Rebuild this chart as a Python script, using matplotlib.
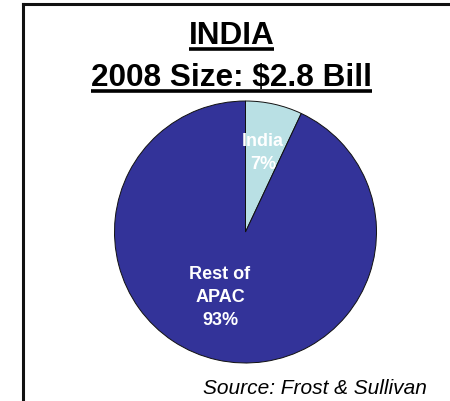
import matplotlib

matplotlib.use("Agg")
import matplotlib.pyplot as plt
from matplotlib.lines import Line2D

plt.rcParams["font.family"] = ["Liberation Sans", "DejaVu Sans"]

# market share, 2008
regions = ["India", "Rest of\nAPAC"]
shares = [7, 93]
slice_colors = ["#B9E0E4", "#333399"]
title_lines = ["INDIA", "2008 Size: $2.8 Bill"]
source_note = "Source: Frost & Sullivan"

W, H = 450, 401
fig = plt.figure(figsize=(W / 100, H / 100), dpi=100)
fig.patch.set_facecolor("white")


def px(x, y):
    # pixel position (top-left origin) -> figure fraction
    return x / W, 1 - y / H


# pie: centre (245.5, 232) px, radius 131 px
cx, cy, r = 245.5, 232, 131
ax = fig.add_axes([(cx - r) / W, 1 - (cy + r) / H, 2 * r / W, 2 * r / H])
wedges, _ = ax.pie(
    shares,
    colors=slice_colors,
    startangle=90,
    counterclock=False,
    radius=1,
    wedgeprops=dict(edgecolor="#111111", linewidth=0.7),
)
ax.set_xlim(-1, 1)
ax.set_ylim(-1, 1)
ax.set_aspect("equal")
ax.axis("off")

label_pos = [(0.134, 0.60), (-0.195, -0.50)]
for name, val, (lx, ly) in zip(regions, shares, label_pos):
    ax.text(
        lx,
        ly,
        f"{name}\n{val}%",
        ha="center",
        va="center",
        multialignment="center",
        color="white",
        fontsize=13,
        fontweight="bold",
        linespacing=1.45,
    )

# underlined title
renderer = fig.canvas.get_renderer()
for txt, base_y in zip(title_lines, [44, 86]):
    t = fig.text(
        *px(231.5, base_y),
        txt,
        ha="center",
        va="baseline",
        fontsize=22.7,
        fontweight="bold",
        color="black",
    )
    bb = t.get_window_extent(renderer)
    uy = 1 - (base_y + 5) / H
    fig.add_artist(
        Line2D(
            [bb.x0 / W, bb.x1 / W],
            [uy, uy],
            transform=fig.transFigure,
            color="black",
            linewidth=2.6,
            solid_capstyle="butt",
        )
    )

fig.text(
    *px(203, 394),
    source_note,
    ha="left",
    va="baseline",
    fontsize=15,
    fontstyle="italic",
    color="black",
)

# frame: left and top edges only
for xs, ys in [([23, 23], [4, H]), ([23, W], [4, 4])]:
    fig.add_artist(
        Line2D(
            [x / W for x in xs],
            [1 - y / H for y in ys],
            transform=fig.transFigure,
            color="#111111",
            linewidth=2.2,
            solid_capstyle="projecting",
        )
    )

fig.savefig("out.png", dpi=100)
